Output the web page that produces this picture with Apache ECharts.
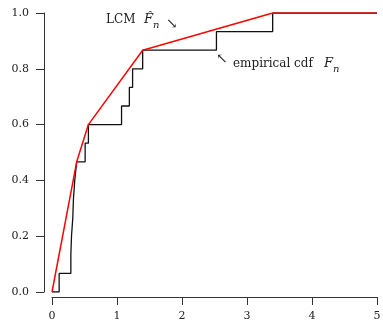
<!DOCTYPE html>
<html>
<head>
<meta charset="utf-8">
<script src="https://cdn.jsdelivr.net/npm/echarts@6/dist/echarts.min.js"></script>
<style>
  html, body { margin: 0; padding: 0; background: #fff; }
  #chart { width: 383px; height: 324px; }
</style>
</head>
<body>
<div id="chart"></div>
<script>
// sample of n = 15 points: x positions of the ECDF jumps
const n = 15;
const jumpX = [0.11, 0.29, 0.30, 0.32, 0.33, 0.35, 0.38, 0.51, 0.56, 1.07, 1.19, 1.24, 1.395, 2.53, 3.395];
const xEnd = 5;
// jump indices (1-based) that are vertices of the least concave majorant
const lcmVertices = [7, 9, 13, 15];
const xTickLabels = ['0', '1', '2', '3', '4', '5'];
const yTickLabels = ['0.0', '0.2', '0.4', '0.6', '0.8', '1.0'];

const FONT = 'DejaVu Serif';
const AXIS_COLOR = '#333';

// Empirical cdf as step points
const ecdfData = [[0, 0]].concat(jumpX.map((x, i) => [x, (i + 1) / n]), [[xEnd, 1]]);
// LCM polygon through hull vertices
const lcmData = [[0, 0]].concat(lcmVertices.map((k) => [jumpX[k - 1], k / n]), [[xEnd, 1]]);

const chart = echarts.init(document.getElementById('chart'), null, { renderer: 'canvas' });

const option = {
  backgroundColor: '#fff',
  animation: false,
  grid: { left: 52, right: 6, top: 13, bottom: 32, outerBoundsMode: 'none' },
  xAxis: {
    type: 'value',
    min: 0,
    max: 5,
    interval: 1,
    offset: 5,
    splitLine: { show: false },
    axisLine: { show: true, onZero: false, lineStyle: { color: AXIS_COLOR, width: 1 } },
    axisTick: { show: true, length: 8, lineStyle: { color: AXIS_COLOR } },
    axisLabel: {
      fontFamily: FONT, fontSize: 11, color: '#222', margin: 14,
      formatter: (v) => xTickLabels[Math.round(v)],
    },
  },
  yAxis: {
    type: 'value',
    min: 0,
    max: 1,
    interval: 0.2,
    offset: 8,
    splitLine: { show: false },
    axisLine: { show: true, onZero: false, lineStyle: { color: AXIS_COLOR, width: 1 } },
    axisTick: { show: true, length: 8, lineStyle: { color: AXIS_COLOR } },
    axisLabel: {
      fontFamily: FONT, fontSize: 11, color: '#222', margin: 15,
      formatter: (v) => yTickLabels[Math.round(v * 5)],
    },
  },
  series: [
    // empirical cdf
    {
      name: 'empirical cdf',
      type: 'line',
      step: 'end',
      data: ecdfData,
      symbol: 'none',
      lineStyle: { color: '#111', width: 1.3 },
      z: 1,
    },
    // LCM
    {
      name: 'LCM',
      type: 'line',
      data: lcmData,
      symbol: 'none',
      lineStyle: { color: '#ff0000', width: 1.5 },
      z: 2,
    },
  ],
  graphic: [
    { type: 'text', x: 106, y: 14, style: { text: 'LCM', font: `12px "${FONT}"`, fill: '#222' } },
    { type: 'text', x: 144, y: 13, style: { text: 'F\u0302', font: `italic 13px "${FONT}"`, fill: '#222' } },
    { type: 'text', x: 153, y: 20, style: { text: 'n', font: `italic 10px "${FONT}"`, fill: '#222' } },
    { type: 'text', x: 166, y: 17, style: { text: '\u2198', font: `14px "${FONT}"`, fill: '#222' } },
    { type: 'text', x: 216, y: 52, style: { text: '\u2196', font: `14px "${FONT}"`, fill: '#222' } },
    { type: 'text', x: 233, y: 58, style: { text: 'empirical cdf', font: `12px "${FONT}"`, fill: '#222' } },
    { type: 'text', x: 324, y: 57, style: { text: 'F', font: `italic 13px "${FONT}"`, fill: '#222' } },
    { type: 'text', x: 333, y: 64, style: { text: 'n', font: `italic 10px "${FONT}"`, fill: '#222' } },
  ],
};

chart.setOption(option);
</script>
</body>
</html>
